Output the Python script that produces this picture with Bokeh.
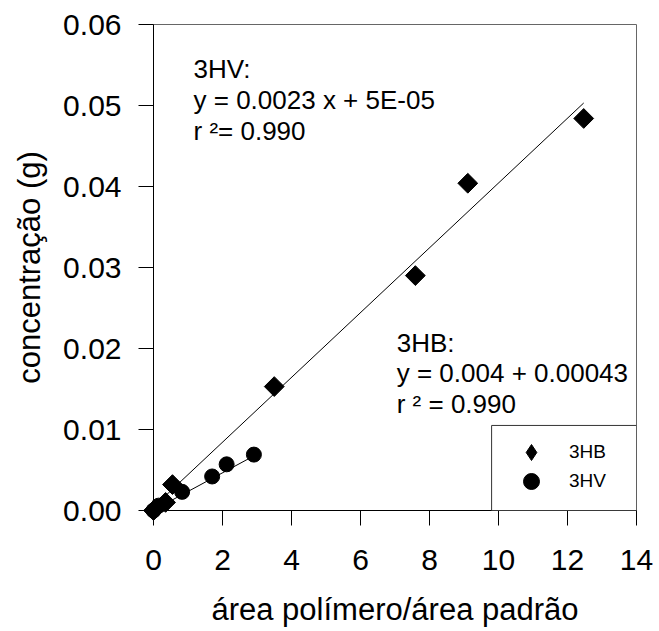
import math
from bokeh.plotting import figure
from bokeh.models import (Label, Legend, LegendItem, FixedTicker, NumeralTickFormatter,
                          Range1d, BoxAnnotation)
from bokeh.embed import file_html
from bokeh.resources import INLINE

# ---- data ----
hb_x = [0.0, 0.35, 0.55, 3.50, 7.59, 9.11, 12.47]
hb_y = [0.0, 0.0010, 0.0032, 0.0153, 0.0290, 0.0404, 0.0484]
hv_x = [0.0, 0.15, 0.83, 1.70, 2.12, 2.91]
hv_y = [0.0, 0.0006, 0.0023, 0.0042, 0.0057, 0.0069]

hb_slope, hb_icpt = 0.004, 0.00043
hv_slope, hv_icpt = 0.0023, 0.00005

x_ticks = [0, 2, 4, 6, 8, 10, 12, 14]
y_ticks = [0.0, 0.01, 0.02, 0.03, 0.04, 0.05, 0.06]

ann_hv = ["3HV:", "y = 0.0023 x + 5E-05", "r \u00b2= 0.990"]
ann_hb = ["3HB:", "y = 0.004 + 0.00043", "r \u00b2 = 0.990"]

FONT = "Liberation Sans"

p = figure(width=659, height=631, output_backend="svg", toolbar_location=None,
           x_range=Range1d(0, 14), y_range=Range1d(0, 0.06),
           min_border_left=153, min_border_right=23, min_border_top=24, min_border_bottom=121)
p.grid.visible = False
p.outline_line_color = "#666666"
p.outline_line_width = 1
p.background_fill_color = "white"
p.border_fill_color = "white"

for ax in (p.xaxis[0], p.yaxis[0]):
    ax.axis_line_color = "black"
    ax.major_tick_line_color = "black"
    ax.minor_tick_line_color = None
    ax.major_tick_in = 0
    ax.major_tick_out = 15
    ax.major_label_text_font = FONT
    ax.major_label_text_font_size = "30px"
    ax.major_label_text_color = "black"
    ax.axis_label_text_font = FONT
    ax.axis_label_text_font_size = "31px"
    ax.axis_label_text_font_style = "normal"
    ax.axis_label_text_color = "black"

p.xaxis.ticker = FixedTicker(ticks=x_ticks)
p.yaxis.ticker = FixedTicker(ticks=y_ticks)
p.yaxis.formatter = NumeralTickFormatter(format="0.00")
p.xaxis.axis_label = "\u00e1rea pol\u00edmero/\u00e1rea padr\u00e3o"
p.yaxis.axis_label = "concentra\u00e7\u00e3o (g)"
p.yaxis.major_label_standoff = 17
p.yaxis.axis_label_standoff = 13
p.xaxis.major_label_standoff = 24
p.xaxis.axis_label_standoff = 19

# regression lines
hb_lx = [min(hb_x), max(hb_x)]
hv_lx = [min(hv_x), max(hv_x)]
p.line(hb_lx, [hb_slope * v + hb_icpt for v in hb_lx], line_color="black", line_width=1)
p.line(hv_lx, [hv_slope * v + hv_icpt for v in hv_lx], line_color="black", line_width=1)

r_hb = p.scatter(hb_x, hb_y, marker="square", size=14, angle=math.pi / 4,
                 fill_color="black", line_color="black", level="overlay")
r_hv = p.scatter(hv_x, hv_y, marker="circle", size=15,
                 fill_color="black", line_color="black", level="overlay")
# hidden twin used only for the legend swatch (legend swatches cannot be rotated)
r_hb_leg = p.scatter(hb_x, hb_y, marker="diamond", size=14,
                     fill_color="black", line_color="black", visible=False)

# legend frame
p.add_layout(BoxAnnotation(left=9.8, right=14, bottom=0, top=0.0105,
                           fill_color="white", fill_alpha=1,
                           line_color="#333333", line_width=1, line_alpha=1))

def add_legend(label, rend, y_off):
    lg = Legend(items=[LegendItem(label=label, renderers=[rend])],
                location=(358, y_off), margin=0, padding=0, spacing=0,
                glyph_width=40, glyph_height=40, label_height=40, label_width=50,
                label_standoff=18, label_text_font=FONT, label_text_font_size="19px",
                label_text_color="black", border_line_color=None,
                background_fill_alpha=0, inactive_fill_alpha=0)
    p.add_layout(lg, "center")

add_legend("3HB", r_hb_leg, 38)
add_legend("3HV", r_hv, 9)

def add_block(lines, x, ys):
    for t, y in zip(lines, ys):
        p.add_layout(Label(x=x, y=y, text=t, text_font=FONT, text_font_size="26px",
                           text_baseline="middle", text_align="left", text_color="black"))

add_block(ann_hv, 1.16, [0.0545, 0.0507, 0.0468])
add_block(ann_hb, 7.05, [0.0207, 0.0170, 0.0132])

open("out.html", "w").write(file_html(p, INLINE))
